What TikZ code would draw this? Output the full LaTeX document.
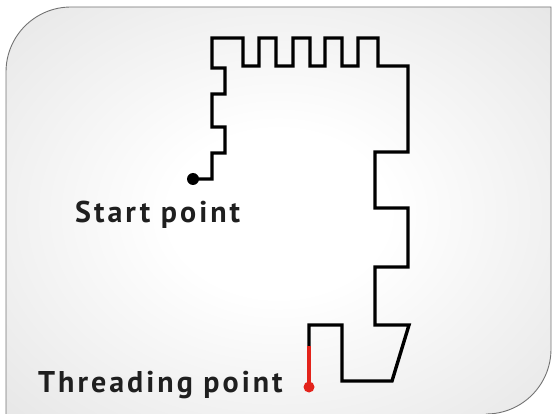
\documentclass[tikz,border=0pt]{standalone}
\usepackage{fontspec}
\newfontfamily\labelfont[LetterSpace=10]{PT Sans}
\definecolor{wirered}{HTML}{E3231B}
\pgfdeclareradialshading{glow}{\pgfpoint{0bp}{0bp}}{color(0bp)=(white); color(10bp)=(white); color(50bp)=(black!15)}
\tikzset{
  wire/.style={line width=3.4pt},
  dot/.style={circle,fill,inner sep=0pt,minimum size=12pt},
  tag/.style={font=\labelfont\bfseries\fontsize{30}{34}\selectfont,inner sep=0pt,text=black!88},
  frame/.style={draw=black!55,line width=0.9pt}
}
\begin{document}
\begin{tikzpicture}[x=1pt,y=-1pt]
\useasboundingbox (0,0) rectangle (552,414);
% board
\shade[shading=glow] (6,420) -- (6,72) .. controls (6,36) and (35,7) .. (71,7) -- (551,7) -- (551,349) .. controls (551,385) and (522,414) .. (486,414) -- (486,420) -- cycle;
\draw[frame] (6,420) -- (6,72) .. controls (6,36) and (35,7) .. (71,7) -- (551,7) -- (551,349) .. controls (551,385) and (522,414) .. (486,414);
% end points
\node[dot] (start) at (193,179) {};
\node[dot,wirered,minimum size=11pt] (thread) at (309,387) {};
\coordinate (redfrom) at (309,346);
% wire
\draw[wire] (start.center) -- (212,179) -- (212,153) -- (225,153) -- (225,127) -- (212,127) -- (212,94) -- (225,94) -- (225,68) -- (212,68) -- (212,38)
  -- (243,38) -- (243,66) -- (259,66) -- (259,38) -- (276,38) -- (276,66) -- (293,66) -- (293,38) -- (310,38) -- (310,66)
  -- (325,66) -- (325,38) -- (342,38) -- (342,66) -- (358,66) -- (358,38) -- (378,38) -- (378,66) -- (408,66)
  -- (408,152) -- (375,152) -- (375,208) -- (408,208) -- (408,267) -- (375,267) -- (375,325) -- (409,325)
  -- (392,381) -- (342,381) -- (342,325) -- (309,325) -- (redfrom);
\draw[wire,wirered] (redfrom) -- (thread.center);
% labels
\node[tag,anchor=base west] (startlabel) at (75,223) {Start point};
\node[tag,anchor=base west] (threadlabel) at (38,392) {Threading point};
\end{tikzpicture}
\end{document}
